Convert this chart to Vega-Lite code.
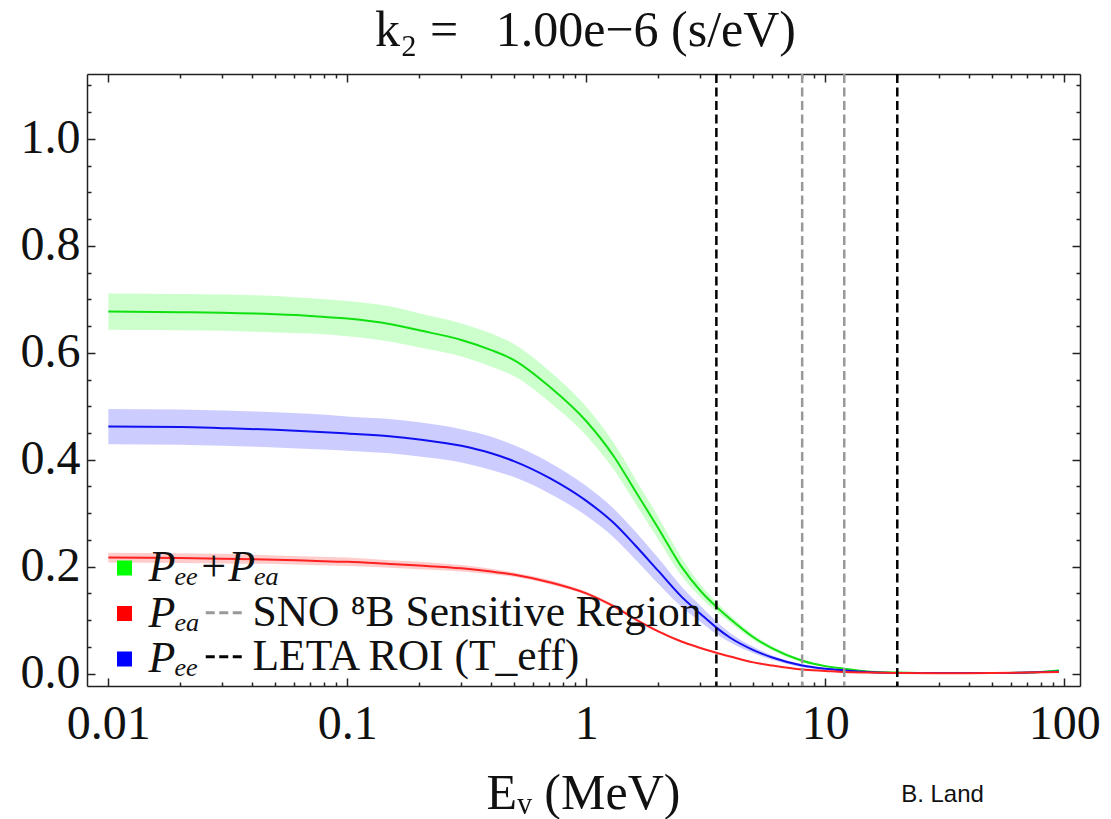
{
  "$schema": "https://vega.github.io/schema/vega-lite/v6.json",
  "width": 993,
  "height": 612,
  "autosize": {"type": "none"},
  "padding": {"left": 87, "top": 74, "right": 31, "bottom": 133},
  "background": "white",
  "config": {"view": {"stroke": null}, "font": "Liberation Serif"},
  "datasets": {
    "curves": [
      {"E": 0.01, "series": "Pₑₑ+Pₑₐ", "p": 0.677, "lo": 0.643, "hi": 0.711},
      {"E": 0.02, "series": "Pₑₑ+Pₑₐ", "p": 0.676, "lo": 0.642, "hi": 0.710},
      {"E": 0.03, "series": "Pₑₑ+Pₑₐ", "p": 0.675, "lo": 0.641, "hi": 0.709},
      {"E": 0.05, "series": "Pₑₑ+Pₑₐ", "p": 0.672, "lo": 0.638, "hi": 0.706},
      {"E": 0.07, "series": "Pₑₑ+Pₑₐ", "p": 0.669, "lo": 0.636, "hi": 0.702},
      {"E": 0.1, "series": "Pₑₑ+Pₑₐ", "p": 0.664, "lo": 0.631, "hi": 0.697},
      {"E": 0.15, "series": "Pₑₑ+Pₑₐ", "p": 0.654, "lo": 0.621, "hi": 0.687},
      {"E": 0.2, "series": "Pₑₑ+Pₑₐ", "p": 0.642, "lo": 0.610, "hi": 0.674},
      {"E": 0.3, "series": "Pₑₑ+Pₑₐ", "p": 0.624, "lo": 0.593, "hi": 0.655},
      {"E": 0.4, "series": "Pₑₑ+Pₑₐ", "p": 0.605, "lo": 0.574, "hi": 0.636},
      {"E": 0.5, "series": "Pₑₑ+Pₑₐ", "p": 0.586, "lo": 0.556, "hi": 0.616},
      {"E": 0.7, "series": "Pₑₑ+Pₑₐ", "p": 0.537, "lo": 0.508, "hi": 0.566},
      {"E": 1, "series": "Pₑₑ+Pₑₐ", "p": 0.472, "lo": 0.445, "hi": 0.499},
      {"E": 1.3, "series": "Pₑₑ+Pₑₐ", "p": 0.407, "lo": 0.382, "hi": 0.432},
      {"E": 1.6, "series": "Pₑₑ+Pₑₐ", "p": 0.342, "lo": 0.319, "hi": 0.365},
      {"E": 2, "series": "Pₑₑ+Pₑₐ", "p": 0.272, "lo": 0.251, "hi": 0.293},
      {"E": 2.5, "series": "Pₑₑ+Pₑₐ", "p": 0.200, "lo": 0.183, "hi": 0.217},
      {"E": 3, "series": "Pₑₑ+Pₑₐ", "p": 0.155, "lo": 0.143, "hi": 0.167},
      {"E": 3.5, "series": "Pₑₑ+Pₑₐ", "p": 0.125, "lo": 0.116, "hi": 0.134},
      {"E": 4, "series": "Pₑₑ+Pₑₐ", "p": 0.102, "lo": 0.095, "hi": 0.109},
      {"E": 5, "series": "Pₑₑ+Pₑₐ", "p": 0.068, "lo": 0.063, "hi": 0.073},
      {"E": 6, "series": "Pₑₑ+Pₑₐ", "p": 0.047, "lo": 0.043, "hi": 0.051},
      {"E": 8, "series": "Pₑₑ+Pₑₐ", "p": 0.024, "lo": 0.021, "hi": 0.027},
      {"E": 10, "series": "Pₑₑ+Pₑₐ", "p": 0.014, "lo": 0.012, "hi": 0.016},
      {"E": 12, "series": "Pₑₑ+Pₑₐ", "p": 0.009, "lo": 0.007, "hi": 0.011},
      {"E": 15, "series": "Pₑₑ+Pₑₐ", "p": 0.004, "lo": 0.003, "hi": 0.005},
      {"E": 20, "series": "Pₑₑ+Pₑₐ", "p": 0.002, "lo": 0.001, "hi": 0.003},
      {"E": 30, "series": "Pₑₑ+Pₑₐ", "p": 0.001, "lo": 0.000, "hi": 0.002},
      {"E": 50, "series": "Pₑₑ+Pₑₐ", "p": 0.001, "lo": 0.000, "hi": 0.002},
      {"E": 70, "series": "Pₑₑ+Pₑₐ", "p": 0.002, "lo": 0.001, "hi": 0.003},
      {"E": 95, "series": "Pₑₑ+Pₑₐ", "p": 0.006, "lo": 0.005, "hi": 0.007},

      {"E": 0.01, "series": "Pₑₑ", "p": 0.462, "lo": 0.429, "hi": 0.495},
      {"E": 0.02, "series": "Pₑₑ", "p": 0.461, "lo": 0.428, "hi": 0.494},
      {"E": 0.03, "series": "Pₑₑ", "p": 0.459, "lo": 0.426, "hi": 0.492},
      {"E": 0.05, "series": "Pₑₑ", "p": 0.456, "lo": 0.423, "hi": 0.489},
      {"E": 0.07, "series": "Pₑₑ", "p": 0.453, "lo": 0.420, "hi": 0.486},
      {"E": 0.1, "series": "Pₑₑ", "p": 0.449, "lo": 0.417, "hi": 0.481},
      {"E": 0.15, "series": "Pₑₑ", "p": 0.444, "lo": 0.412, "hi": 0.476},
      {"E": 0.2, "series": "Pₑₑ", "p": 0.438, "lo": 0.406, "hi": 0.470},
      {"E": 0.3, "series": "Pₑₑ", "p": 0.426, "lo": 0.395, "hi": 0.457},
      {"E": 0.4, "series": "Pₑₑ", "p": 0.412, "lo": 0.381, "hi": 0.443},
      {"E": 0.5, "series": "Pₑₑ", "p": 0.397, "lo": 0.367, "hi": 0.427},
      {"E": 0.7, "series": "Pₑₑ", "p": 0.366, "lo": 0.337, "hi": 0.395},
      {"E": 1, "series": "Pₑₑ", "p": 0.323, "lo": 0.295, "hi": 0.351},
      {"E": 1.3, "series": "Pₑₑ", "p": 0.282, "lo": 0.255, "hi": 0.309},
      {"E": 1.6, "series": "Pₑₑ", "p": 0.240, "lo": 0.214, "hi": 0.266},
      {"E": 2, "series": "Pₑₑ", "p": 0.192, "lo": 0.168, "hi": 0.216},
      {"E": 2.5, "series": "Pₑₑ", "p": 0.144, "lo": 0.125, "hi": 0.163},
      {"E": 3, "series": "Pₑₑ", "p": 0.112, "lo": 0.097, "hi": 0.127},
      {"E": 3.5, "series": "Pₑₑ", "p": 0.086, "lo": 0.074, "hi": 0.098},
      {"E": 4, "series": "Pₑₑ", "p": 0.067, "lo": 0.058, "hi": 0.076},
      {"E": 5, "series": "Pₑₑ", "p": 0.044, "lo": 0.038, "hi": 0.050},
      {"E": 6, "series": "Pₑₑ", "p": 0.030, "lo": 0.026, "hi": 0.034},
      {"E": 8, "series": "Pₑₑ", "p": 0.015, "lo": 0.012, "hi": 0.018},
      {"E": 10, "series": "Pₑₑ", "p": 0.009, "lo": 0.007, "hi": 0.011},
      {"E": 12, "series": "Pₑₑ", "p": 0.006, "lo": 0.004, "hi": 0.008},
      {"E": 15, "series": "Pₑₑ", "p": 0.003, "lo": 0.002, "hi": 0.004},
      {"E": 20, "series": "Pₑₑ", "p": 0.001, "lo": 0.000, "hi": 0.002},
      {"E": 30, "series": "Pₑₑ", "p": 0.001, "lo": 0.000, "hi": 0.002},
      {"E": 50, "series": "Pₑₑ", "p": 0.001, "lo": 0.000, "hi": 0.002},
      {"E": 70, "series": "Pₑₑ", "p": 0.002, "lo": 0.001, "hi": 0.003},
      {"E": 95, "series": "Pₑₑ", "p": 0.004, "lo": 0.003, "hi": 0.005},

      {"E": 0.01, "series": "Pₑₐ", "p": 0.217, "lo": 0.208, "hi": 0.226},
      {"E": 0.02, "series": "Pₑₐ", "p": 0.216, "lo": 0.207, "hi": 0.225},
      {"E": 0.03, "series": "Pₑₐ", "p": 0.215, "lo": 0.206, "hi": 0.224},
      {"E": 0.05, "series": "Pₑₐ", "p": 0.213, "lo": 0.205, "hi": 0.221},
      {"E": 0.07, "series": "Pₑₐ", "p": 0.211, "lo": 0.203, "hi": 0.219},
      {"E": 0.1, "series": "Pₑₐ", "p": 0.209, "lo": 0.201, "hi": 0.217},
      {"E": 0.15, "series": "Pₑₐ", "p": 0.205, "lo": 0.198, "hi": 0.212},
      {"E": 0.2, "series": "Pₑₐ", "p": 0.202, "lo": 0.195, "hi": 0.209},
      {"E": 0.3, "series": "Pₑₐ", "p": 0.197, "lo": 0.191, "hi": 0.203},
      {"E": 0.4, "series": "Pₑₐ", "p": 0.191, "lo": 0.186, "hi": 0.196},
      {"E": 0.5, "series": "Pₑₐ", "p": 0.185, "lo": 0.181, "hi": 0.189},
      {"E": 0.7, "series": "Pₑₐ", "p": 0.171, "lo": 0.167, "hi": 0.175},
      {"E": 1, "series": "Pₑₐ", "p": 0.150, "lo": 0.147, "hi": 0.153},
      {"E": 1.3, "series": "Pₑₐ", "p": 0.126, "lo": 0.123, "hi": 0.129},
      {"E": 1.6, "series": "Pₑₐ", "p": 0.102, "lo": 0.100, "hi": 0.104},
      {"E": 2, "series": "Pₑₐ", "p": 0.079, "lo": 0.077, "hi": 0.081},
      {"E": 2.5, "series": "Pₑₐ", "p": 0.060, "lo": 0.058, "hi": 0.062},
      {"E": 3, "series": "Pₑₐ", "p": 0.048, "lo": 0.047, "hi": 0.049},
      {"E": 3.5, "series": "Pₑₐ", "p": 0.039, "lo": 0.038, "hi": 0.040},
      {"E": 4, "series": "Pₑₐ", "p": 0.032, "lo": 0.031, "hi": 0.033},
      {"E": 5, "series": "Pₑₐ", "p": 0.021, "lo": 0.020, "hi": 0.022},
      {"E": 6, "series": "Pₑₐ", "p": 0.015, "lo": 0.014, "hi": 0.016},
      {"E": 8, "series": "Pₑₐ", "p": 0.0075, "lo": 0.0065, "hi": 0.0085},
      {"E": 10, "series": "Pₑₐ", "p": 0.005, "lo": 0.004, "hi": 0.006},
      {"E": 12, "series": "Pₑₐ", "p": 0.003, "lo": 0.002, "hi": 0.004},
      {"E": 15, "series": "Pₑₐ", "p": 0.002, "lo": 0.001, "hi": 0.003},
      {"E": 20, "series": "Pₑₐ", "p": 0.001, "lo": 0.000, "hi": 0.002},
      {"E": 30, "series": "Pₑₐ", "p": 0.0005, "lo": 0.000, "hi": 0.0015},
      {"E": 50, "series": "Pₑₐ", "p": 0.001, "lo": 0.000, "hi": 0.002},
      {"E": 70, "series": "Pₑₐ", "p": 0.002, "lo": 0.001, "hi": 0.003},
      {"E": 95, "series": "Pₑₐ", "p": 0.003, "lo": 0.002, "hi": 0.004}
    ],
    "regions": [
      {"E": 3.5, "kind": "LETA ROI (T_eff)"},
      {"E": 20, "kind": "LETA ROI (T_eff)"},
      {"E": 8, "kind": "SNO ⁸B Sensitive Region"},
      {"E": 12, "kind": "SNO ⁸B Sensitive Region"}
    ]
  },
  "layer": [
    {
      "data": {"name": "curves"},
      "mark": {"type": "area", "fillOpacity": 0.2, "interpolate": "monotone"},
      "encoding": {
        "x": {
          "field": "E", "type": "quantitative",
          "scale": {"type": "log", "domain": [0.00814, 116.3], "nice": false},
          "axis": {
            "orient": "bottom",
            "values": [0.01,0.02,0.03,0.04,0.05,0.06,0.07,0.08,0.09,0.1,0.2,0.3,0.4,0.5,0.6,0.7,0.8,0.9,1,2,3,4,5,6,7,8,9,10,20,30,40,50,60,70,80,90,100],
            "labelExpr": "datum.value == 0.01 ? '0.01' : datum.value == 0.1 ? '0.1' : datum.value == 1 ? '1' : datum.value == 10 ? '10' : datum.value == 100 ? '100' : ''",
            "tickSize": -8,
            "tickDash": {"condition": {"test": "indexof([0.01,0.1,1,10,100], datum.value) < 0", "value": [4, 20]}, "value": []},
            "tickColor": "#222222", "tickWidth": 1.5,
            "domainColor": "#222222", "domainWidth": 1.5,
            "grid": false,
            "labelFont": "Liberation Serif", "labelFontSize": 48, "labelColor": "#111111",
            "labelBaseline": "alphabetic", "labelPadding": 60,
            "labelFlush": false, "labelOverlap": false, "labelBound": false,
            "title": "Eᵥ (MeV)",
            "titleFont": "Liberation Serif", "titleFontSize": 50, "titleFontWeight": "normal", "titleColor": "#111111",
            "titleX": 496, "titleY": 122, "titleAlign": "center", "titleBaseline": "alphabetic"
          }
        },
        "y": {
          "field": "lo", "type": "quantitative", "stack": null,
          "scale": {"domain": [-0.0232, 1.1214], "nice": false, "zero": false},
          "axis": {
            "orient": "left",
            "values": [0,0.05,0.1,0.15,0.2,0.25,0.3,0.35,0.4,0.45,0.5,0.55,0.6,0.65,0.7,0.75,0.8,0.85,0.9,0.95,1,1.05,1.1],
            "labelExpr": "indexof([0,0.2,0.4,0.6,0.8,1], datum.value) >= 0 ? format(datum.value, '.1f') : ''",
            "tickSize": -8,
            "tickDash": {"condition": {"test": "indexof([0,0.2,0.4,0.6,0.8,1], datum.value) < 0", "value": [4, 20]}, "value": []},
            "tickColor": "#222222", "tickWidth": 1.5,
            "domainColor": "#222222", "domainWidth": 1.5,
            "grid": false,
            "labelFont": "Liberation Serif", "labelFontSize": 48, "labelColor": "#111111",
            "labelPadding": 15, "labelFlush": false, "labelOverlap": false, "labelBound": false,
            "title": null
          }
        },
        "y2": {"field": "hi"},
        "fill": {
          "field": "series", "type": "nominal",
          "scale": {"domain": ["Pₑₑ+Pₑₐ", "Pₑₐ", "Pₑₑ"], "range": ["#00ff00", "#ff0000", "#0000ff"]},
          "legend": {
            "orient": "none", "legendX": 15.5, "legendY": 472, "offset": 0,
            "title": null, "padding": 0,
            "symbolType": "square", "symbolSize": 225, "symbolStrokeWidth": 0,
            "labelFont": "Liberation Serif", "labelFontSize": 44, "labelFontStyle": "italic",
            "labelColor": "#111111", "labelOffset": 2, "labelLimit": 500,
            "rowPadding": 1.5,
            "encode": {
              "symbols": {
                "update": {
                  "fill": {"signal": "datum.value === 'Pₑₑ+Pₑₐ' ? '#22a022' : datum.value === 'Pₑₐ' ? '#ff1010' : '#1010ff'"},
                  "fillOpacity": {"value": 1},
                  "opacity": {"value": 1}
                }
              }
            }
          }
        }
      }
    },
    {
      "data": {"name": "curves"},
      "mark": {"type": "line", "strokeWidth": 2, "interpolate": "monotone"},
      "encoding": {
        "x": {
          "field": "E", "type": "quantitative",
          "scale": {"type": "log", "domain": [0.00814, 116.3], "nice": false},
          "axis": {
            "orient": "top",
            "values": [0.01,0.02,0.03,0.04,0.05,0.06,0.07,0.08,0.09,0.1,0.2,0.3,0.4,0.5,0.6,0.7,0.8,0.9,1,2,3,4,5,6,7,8,9,10,20,30,40,50,60,70,80,90,100],
            "labels": false,
            "tickSize": -8,
            "tickDash": {"condition": {"test": "indexof([0.01,0.1,1,10,100], datum.value) < 0", "value": [4, 20]}, "value": []},
            "tickColor": "#222222", "tickWidth": 1.5,
            "domainColor": "#222222", "domainWidth": 1.5,
            "grid": false,
            "title": "k₂ = \u00a0\u00a01.00e−6 (s/eV)",
            "titleFont": "Liberation Serif", "titleFontSize": 50, "titleFontWeight": "normal", "titleColor": "#111111",
            "titleX": 498, "titleY": -29, "titleAlign": "center", "titleBaseline": "alphabetic"
          }
        },
        "y": {
          "field": "p", "type": "quantitative",
          "scale": {"domain": [-0.0232, 1.1214], "nice": false, "zero": false},
          "axis": {
            "orient": "right",
            "values": [0,0.05,0.1,0.15,0.2,0.25,0.3,0.35,0.4,0.45,0.5,0.55,0.6,0.65,0.7,0.75,0.8,0.85,0.9,0.95,1,1.05,1.1],
            "labels": false,
            "tickSize": -8,
            "tickDash": {"condition": {"test": "indexof([0,0.2,0.4,0.6,0.8,1], datum.value) < 0", "value": [4, 20]}, "value": []},
            "tickColor": "#222222", "tickWidth": 1.5,
            "domainColor": "#222222", "domainWidth": 1.5,
            "grid": false,
            "title": "B. Land",
            "titleFont": "Liberation Sans", "titleFontSize": 24, "titleFontWeight": "normal", "titleColor": "#111111",
            "titleAngle": 0, "titleX": -138, "titleY": 727, "titleAlign": "center", "titleBaseline": "alphabetic"
          }
        },
        "stroke": {
          "field": "series", "type": "nominal",
          "scale": {"domain": ["Pₑₑ+Pₑₐ", "Pₑₐ", "Pₑₑ"], "range": ["#10e010", "#ff2020", "#1010f0"]},
          "legend": null
        }
      }
    },
    {
      "data": {"name": "regions"},
      "mark": {"type": "rule", "strokeWidth": 2.5},
      "encoding": {
        "x": {"field": "E", "type": "quantitative", "axis": null, "scale": {"type": "log", "domain": [0.00814, 116.3], "nice": false}},
        "color": {
          "field": "kind", "type": "nominal",
          "scale": {"domain": ["SNO ⁸B Sensitive Region", "LETA ROI (T_eff)"], "range": ["#999999", "#000000"]},
          "legend": {
            "orient": "none", "legendX": 115, "legendY": 517, "offset": 0,
            "title": null, "padding": 0,
            "symbolType": "stroke", "symbolSize": 1296, "symbolStrokeWidth": 3, "symbolDash": [9, 4.5],
            "labelFont": "Liberation Serif", "labelFontSize": 43.5, "labelColor": "#111111",
            "labelOffset": 7, "labelLimit": 700, "rowPadding": -1
          }
        },
        "strokeDash": {
          "field": "kind", "type": "nominal",
          "scale": {"domain": ["SNO ⁸B Sensitive Region", "LETA ROI (T_eff)"], "range": [[9, 4.5], [9, 4.5]]},
          "legend": null
        }
      }
    }
  ],
  "resolve": {"axis": {"x": "independent", "y": "independent"}}
}
